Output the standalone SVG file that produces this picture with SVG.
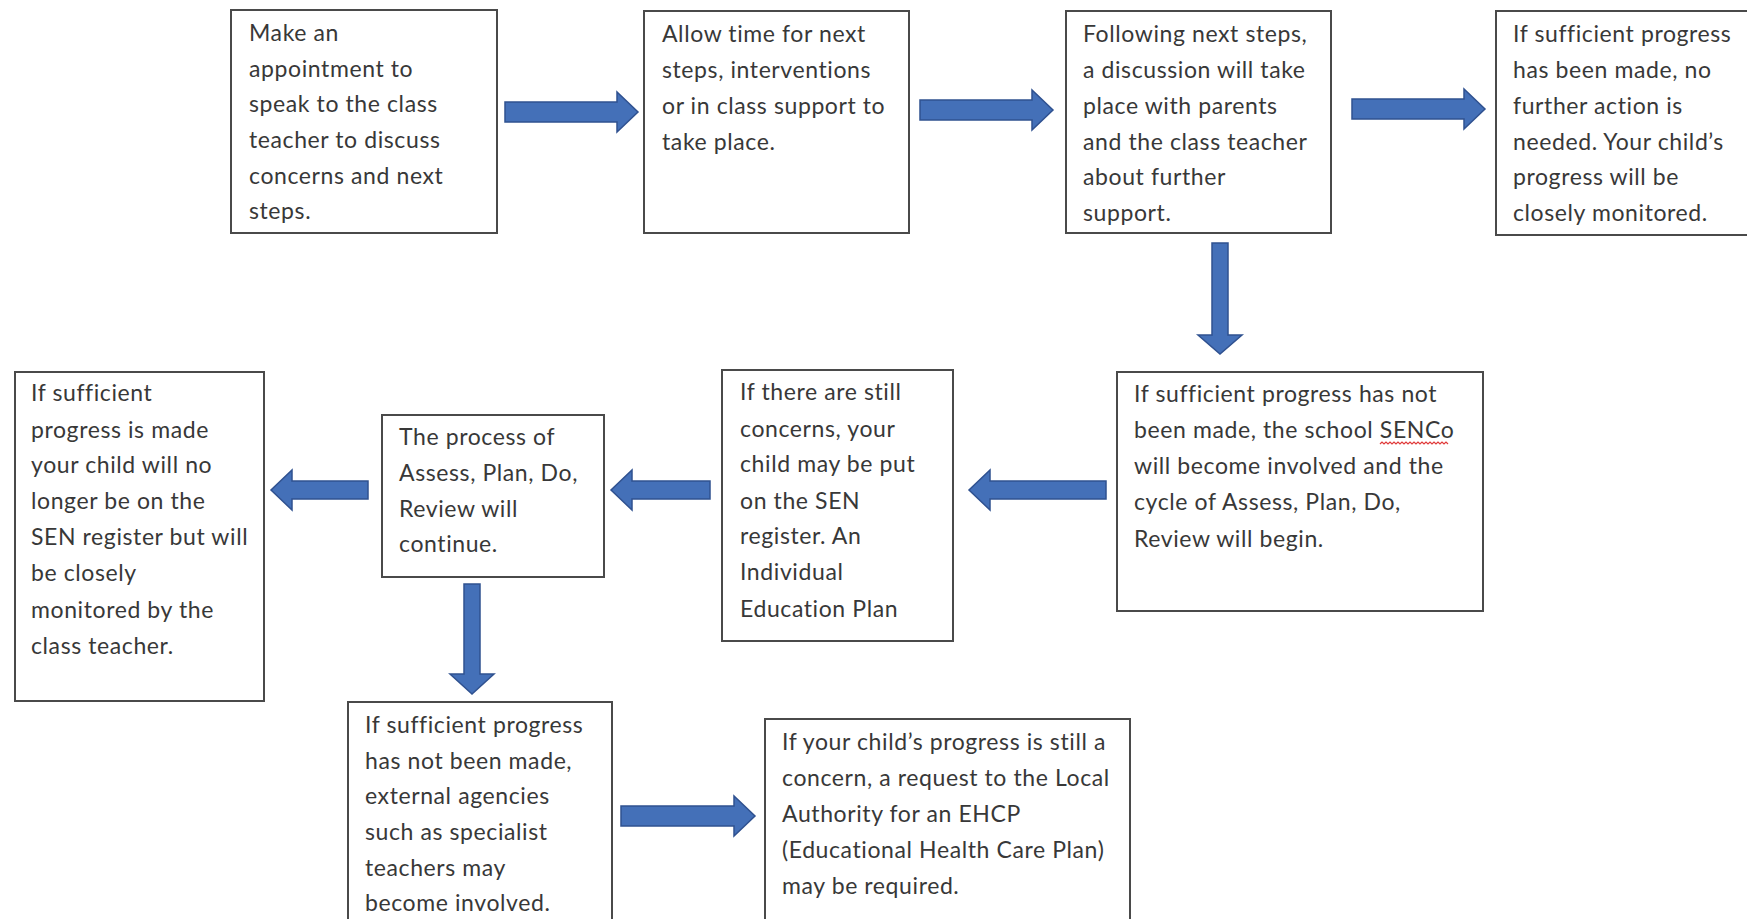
<svg xmlns="http://www.w3.org/2000/svg" width="1747" height="919" viewBox="0 0 1747 919">
<style>
.box{fill:#fff;stroke:#4a4a4a;stroke-width:2}
.t{font-family:Lato,"Liberation Sans",sans-serif;font-size:23px;letter-spacing:0.6px;fill:#383838}
.arr{fill:#4470b8;stroke:#2f5190;stroke-width:1.5;stroke-linejoin:miter}
.spell{fill:none;stroke:#e03a3a;stroke-width:1.2}
</style>
<rect width="1747" height="919" fill="#fff"/>
<g id="connectors">
<path class="arr" d="M505,102 H617 V92 L638,112 L617,132 V122 H505 Z"/>
<path class="arr" d="M920,100 H1032 V90 L1053,110 L1032,130 V120 H920 Z"/>
<path class="arr" d="M1352,99 H1464 V89 L1485,109 L1464,129 V119 H1352 Z"/>
<path class="arr" d="M1212,243 V335 H1198 L1220,354 L1242,335 H1228 V243 Z"/>
<path class="arr" d="M1106,481 H990 V470 L969,490 L990,510 V499 H1106 Z"/>
<path class="arr" d="M710,481 H632 V470 L611,490 L632,510 V499 H710 Z"/>
<path class="arr" d="M368,481 H292 V470 L271,490 L292,510 V499 H368 Z"/>
<path class="arr" d="M464,584 V674 H450 L472,694 L494,674 H480 V584 Z"/>
<path class="arr" d="M621,806 H734 V796 L755,816 L734,836 V826 H621 Z"/>
</g>
<g id="n1"><rect class="box" x="231" y="10" width="266" height="223"/>
<text class="t"><tspan x="249" y="41">Make an</tspan><tspan x="249" y="77">appointment to</tspan><tspan x="249" y="112">speak to the class</tspan><tspan x="249" y="148">teacher to discuss</tspan><tspan x="249" y="184">concerns and next</tspan><tspan x="249" y="219">steps.</tspan></text></g>
<g id="n2"><rect class="box" x="644" y="11" width="265" height="222"/>
<text class="t"><tspan x="662" y="42">Allow time for next</tspan><tspan x="662" y="78">steps, interventions</tspan><tspan x="662" y="114">or in class support to</tspan><tspan x="662" y="150">take place.</tspan></text></g>
<g id="n3"><rect class="box" x="1066" y="11" width="265" height="222"/>
<text class="t"><tspan x="1083" y="42">Following next steps,</tspan><tspan x="1083" y="78">a discussion will take</tspan><tspan x="1083" y="114">place with parents</tspan><tspan x="1083" y="150">and the class teacher</tspan><tspan x="1083" y="185">about further</tspan><tspan x="1083" y="221">support.</tspan></text></g>
<g id="n4"><rect class="box" x="1496" y="11" width="252" height="224"/>
<text class="t"><tspan x="1513" y="42">If sufficient progress</tspan><tspan x="1513" y="78">has been made, no</tspan><tspan x="1513" y="114">further action is</tspan><tspan x="1513" y="150">needed. Your child’s</tspan><tspan x="1513" y="185">progress will be</tspan><tspan x="1513" y="221">closely monitored.</tspan></text></g>
<g id="n5"><rect class="box" x="1117" y="372" width="366" height="239"/>
<text class="t"><tspan x="1134" y="402">If sufficient progress has not</tspan><tspan x="1134" y="438">been made, the school SENCo</tspan><tspan x="1134" y="474">will become involved and the</tspan><tspan x="1134" y="510">cycle of Assess, Plan, Do,</tspan><tspan x="1134" y="547">Review will begin.</tspan></text>
<path class="spell" d="M1380,444 l2,-2 l2,2 l2,-2 l2,2 l2,-2 l2,2 l2,-2 l2,2 l2,-2 l2,2 l2,-2 l2,2 l2,-2 l2,2 l2,-2 l2,2 l2,-2 l2,2 l2,-2 l2,2 l2,-2 l2,2 l2,-2 l2,2 l2,-2 l2,2 l2,-2 l2,2 l2,-2 l2,2 l2,-2 l2,2 l2,-2 l2,2"/></g>
<g id="n6"><rect class="box" x="722" y="370" width="231" height="271"/>
<text class="t"><tspan x="740" y="400">If there are still</tspan><tspan x="740" y="437">concerns, your</tspan><tspan x="740" y="472">child may be put</tspan><tspan x="740" y="509">on the SEN</tspan><tspan x="740" y="544">register. An</tspan><tspan x="740" y="580">Individual</tspan><tspan x="740" y="617">Education Plan</tspan></text></g>
<g id="n7"><rect class="box" x="382" y="415" width="222" height="162"/>
<text class="t"><tspan x="399" y="445">The process of</tspan><tspan x="399" y="481">Assess, Plan, Do,</tspan><tspan x="399" y="517">Review will</tspan><tspan x="399" y="552">continue.</tspan></text></g>
<g id="n8"><rect class="box" x="15" y="372" width="249" height="329"/>
<text class="t"><tspan x="31" y="401">If sufficient</tspan><tspan x="31" y="438">progress is made</tspan><tspan x="31" y="473">your child will no</tspan><tspan x="31" y="509">longer be on the</tspan><tspan x="31" y="545">SEN register but will</tspan><tspan x="31" y="581">be closely</tspan><tspan x="31" y="618">monitored by the</tspan><tspan x="31" y="654">class teacher.</tspan></text></g>
<g id="n9"><rect class="box" x="348" y="702" width="264" height="240"/>
<text class="t"><tspan x="365" y="733">If sufficient progress</tspan><tspan x="365" y="769">has not been made,</tspan><tspan x="365" y="804">external agencies</tspan><tspan x="365" y="840">such as specialist</tspan><tspan x="365" y="876">teachers may</tspan><tspan x="365" y="911">become involved.</tspan></text></g>
<g id="n10"><rect class="box" x="765" y="719" width="365" height="230"/>
<text class="t"><tspan x="782" y="750">If your child’s progress is still a</tspan><tspan x="782" y="786">concern, a request to the Local</tspan><tspan x="782" y="822">Authority for an EHCP</tspan><tspan x="782" y="858">(Educational Health Care Plan)</tspan><tspan x="782" y="894">may be required.</tspan></text></g>
</svg>
